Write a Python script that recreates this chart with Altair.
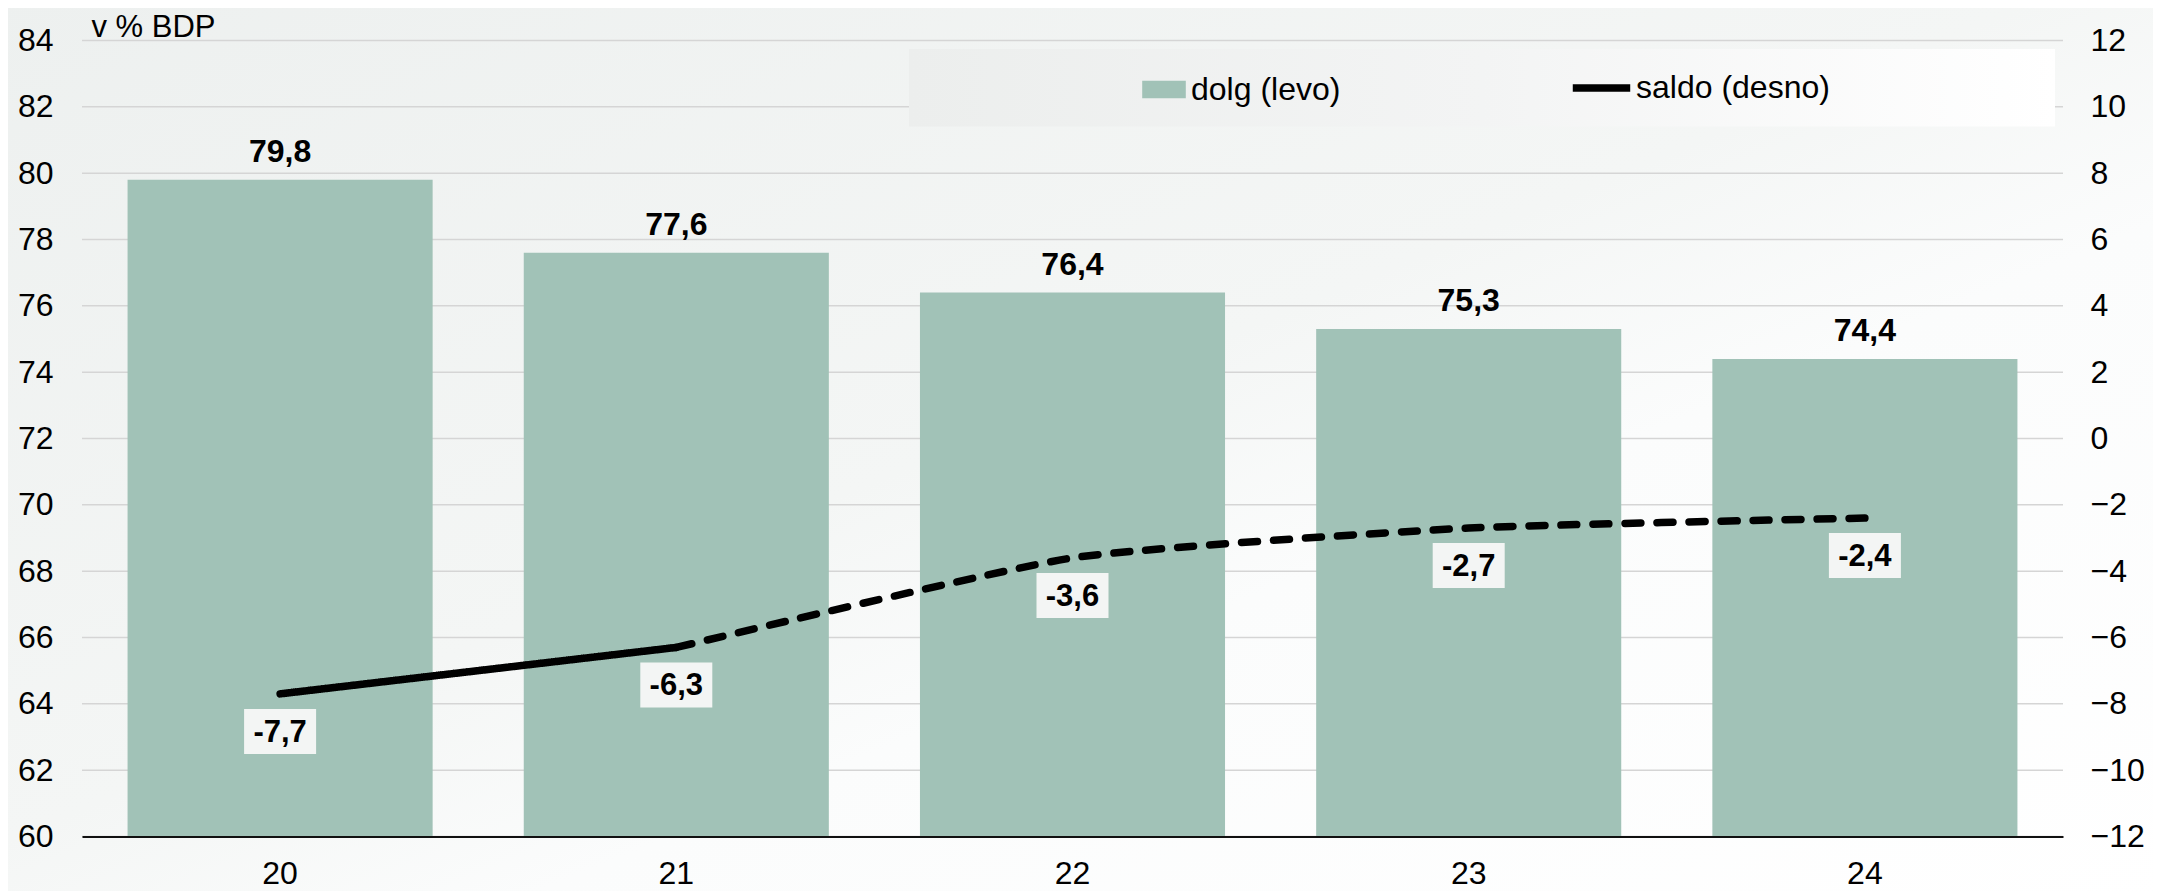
import altair as alt
import pandas as pd

# ---- data ----
years = ["20", "21", "22", "23", "24"]
dolg = [79.8, 77.6, 76.4, 75.3, 74.4]          # left axis, % BDP
saldo = [-7.7, -6.3, -3.6, -2.7, -2.4]         # right axis
solid_idx = [0, 1]                              # solid part of the saldo line
dashed_idx = [1, 2, 3, 4]                       # dashed (projection) part
left_ticks = list(range(60, 85, 2))
right_ticks = list(range(-12, 13, 2))
series_names = ["dolg (levo)", "saldo (desno)"]
y_title = "v % BDP"

FONT = "Liberation Sans"
BAR = "#a1c2b7"


def fmt(v):
    return f"{v:.1f}".replace(".", ",")


bars_df = pd.DataFrame({
    "year": years,
    "dolg": dolg,
    "label": [fmt(v) for v in dolg],
    "series": series_names[0],
})
line_rows = []
for seg, idx in (("a", solid_idx), ("b", dashed_idx)):
    for i in idx:
        line_rows.append({"year": years[i], "saldo": saldo[i], "seg": seg, "series": series_names[1]})
line_df = pd.DataFrame(line_rows)
lab_df = pd.DataFrame({"year": years, "saldo": saldo, "label": [fmt(v) for v in saldo]})
grid_df = pd.DataFrame({"tick": left_ticks})
one = pd.DataFrame({"a": [0]})

xscale = alt.Scale(domain=years, paddingInner=0.23, paddingOuter=0.115)
xaxis = alt.Axis(labelAngle=0, labelPadding=22, labelFontSize=32, labelColor="black",
                 ticks=False, domainColor="#111111", domainWidth=2, title=None, grid=False, zindex=2)
X = alt.X("year:N", scale=xscale, axis=xaxis)

lscale = alt.Scale(domain=[60, 84], nice=False, zero=False)
rscale = alt.Scale(domain=[-12, 12], nice=False, zero=False)
laxis = alt.Axis(values=left_ticks, orient="left", grid=False, domain=False, ticks=False,
                 labelFontSize=32, labelPadding=29, labelColor="black", title=y_title,
                 titleAngle=0, titleX=9, titleY=-4, titleAlign="left", titleBaseline="alphabetic",
                 titleFontSize=31, titleFontWeight="normal", titleColor="black", zindex=2)
raxis = alt.Axis(values=right_ticks, orient="right", grid=False, domain=False, ticks=False,
                 labelFontSize=32, labelPadding=27, labelColor="black", title=None, zindex=2)

bg = alt.Chart(one).mark_rect(
    color=alt.LinearGradient(
        gradient="linear", x1=0, y1=0, x2=1, y2=1,
        stops=[alt.GradientStop(offset=0, color="#edf0ef"),
               alt.GradientStop(offset=0.47, color="#f4f6f5"),
               alt.GradientStop(offset=0.62, color="#fbfcfc"),
               alt.GradientStop(offset=1, color="#ffffff")])
).encode(x=alt.value(-90), x2=alt.value(2100), y=alt.value(-45), y2=alt.value(860))

grid = alt.Chart(grid_df).mark_rule(color="#d5d5d5", strokeWidth=1.5).encode(
    y=alt.Y("tick:Q", scale=lscale, axis=None))

legbox = alt.Chart(one).mark_rect(
    color=alt.LinearGradient(
        gradient="linear", x1=0, y1=0, x2=1, y2=0,
        stops=[alt.GradientStop(offset=0, color="#eceeed"),
               alt.GradientStop(offset=0.5, color="#f3f4f4"),
               alt.GradientStop(offset=1, color="#ffffff")])
).encode(x=alt.value(827), x2=alt.value(1973), y=alt.value(8.5), y2=alt.value(86))

bars = alt.Chart(bars_df).mark_bar().encode(
    x=X,
    y=alt.Y("dolg:Q", scale=lscale, axis=laxis),
    y2=alt.datum(60),
    fill=alt.Fill("series:N", scale=alt.Scale(domain=[series_names[0]], range=[BAR]),
                  legend=alt.Legend(orient="none", legendX=1060, legendY=27, title=None,
                                    symbolType="M-1,-0.4L1,-0.4L1,0.4L-1,0.4Z", symbolSize=1900,
                                    symbolStrokeWidth=0, labelFontSize=32, labelFont=FONT,
                                    labelColor="black", labelOffset=5, labelLimit=600, padding=0)),
)
bar_text = alt.Chart(bars_df).mark_text(fontSize=32, fontWeight="bold", color="black",
                                        baseline="alphabetic", dy=-18).encode(
    x=X, y=alt.Y("dolg:Q", scale=lscale, axis=None), text="label:N")

line = alt.Chart(line_df).mark_line(strokeWidth=7.5, strokeCap="round", interpolate="cardinal",
                                    tension=0.5).encode(
    x=X,
    y=alt.Y("saldo:Q", scale=rscale, axis=raxis),
    stroke=alt.Stroke("series:N", scale=alt.Scale(domain=[series_names[1]], range=["#000000"]),
                      legend=alt.Legend(orient="none", legendX=1487, legendY=15, title=None,
                                        symbolType="stroke", symbolSize=3300, symbolStrokeWidth=7.5,
                                        labelFontSize=32, labelFont=FONT, labelColor="black",
                                        labelOffset=2, labelLimit=600, padding=0)),
    strokeDash=alt.StrokeDash("seg:N", scale=alt.Scale(domain=["a", "b"], range=[[1, 0], [16, 16]]),
                              legend=None),
)
boxes = alt.Chart(lab_df).mark_point(
    shape="M-1,-0.625L1,-0.625L1,0.625L-1,0.625Z", size=5184, filled=True, opacity=1,
    color="#f3f5f4", strokeWidth=0, yOffset=37.5).encode(
    x=X, y=alt.Y("saldo:Q", scale=rscale, axis=None))
saldo_text = alt.Chart(lab_df).mark_text(fontSize=31, fontWeight="bold", color="black",
                                         baseline="alphabetic", dy=48).encode(
    x=X, y=alt.Y("saldo:Q", scale=rscale, axis=None), text="label:N")

chart = alt.layer(bg, grid, legbox, bars, bar_text, line, boxes, saldo_text).resolve_scale(
    y="independent"
).properties(
    width=1981, height=796,
    padding={"left": 74, "top": 32.5, "right": 90, "bottom": 54},
    autosize=alt.AutoSizeParams(type="none"),
    background="#f6f7f7",
).configure(font=FONT).configure_view(stroke=None)

chart.save("out.html", embed_options={"renderer": "svg", "actions": False})
